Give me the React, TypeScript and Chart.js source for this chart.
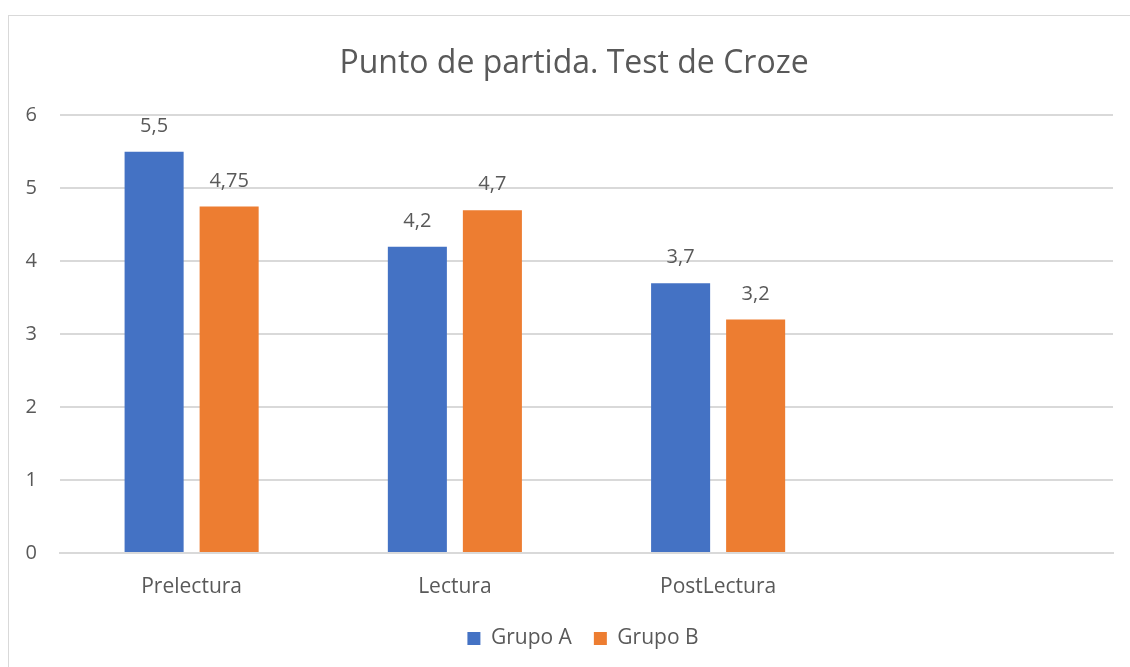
import React, { useEffect, useRef } from "react";
import { Chart, registerables } from "chart.js";

Chart.register(...registerables);

const categories = ["Prelectura", "Lectura", "PostLectura", ""];
const grupoA = [5.5, 4.2, 3.7, null];
const grupoB = [4.75, 4.7, 3.2, null];
const yTicks = [0, 1, 2, 3, 4, 5, 6];

const FONT = "'Open Sans', 'Liberation Sans', sans-serif";
const TEXT = "#595959";

const valueLabels = {
  id: "valueLabels",
  afterDatasetsDraw(chart: any) {
    const ctx = chart.ctx;
    ctx.save();
    ctx.font = `20px ${FONT}`;
    ctx.fillStyle = TEXT;
    ctx.textAlign = "center";
    ctx.textBaseline = "alphabetic";
    chart.data.datasets.forEach((ds: any, i: number) => {
      const meta = chart.getDatasetMeta(i);
      meta.data.forEach((bar: any, j: number) => {
        const v = ds.data[j];
        if (v === null || v === undefined) return;
        ctx.fillText(String(v).replace(".", ","), bar.x, bar.y - 20);
      });
    });
    ctx.restore();
  },
};

// fine placement of legend and title blocks (Excel-like offsets)
const blockPlacement = {
  id: "blockPlacement",
  beforeLayout(chart: any) {
    const lg = chart.legend;
    if (lg && !lg._patched) {
      const orig = lg.fit.bind(lg);
      lg.fit = function () {
        orig();
        this.height = 64;
      };
      lg._patched = true;
    }
  },
  afterLayout(chart: any) {
    const lg = chart.legend;
    if (lg) {
      lg.left += 22;
      lg.right += 22;
      lg.top += 3;
      lg.bottom += 3;
    }
    const tb = chart.titleBlock;
    if (tb) {
      tb.left += 13;
      tb.right += 13;
    }
  },
};

export default function App() {
  const ref = useRef<HTMLCanvasElement>(null);
  useEffect(() => {
    const chart = new Chart(ref.current as HTMLCanvasElement, {
      type: "bar",
      data: {
        labels: categories,
        datasets: [
          { label: "Grupo A", data: grupoA as any, backgroundColor: "#4472C4", categoryPercentage: 0.57, barPercentage: 0.787 },
          { label: "Grupo B", data: grupoB as any, backgroundColor: "#ED7D31", categoryPercentage: 0.57, barPercentage: 0.787 },
        ],
      },
      options: {
        animation: false,
        responsive: false,
        maintainAspectRatio: false,
        layout: { padding: { left: 0, right: 17, top: 0, bottom: 0 } },
        plugins: {
          title: {
            display: true,
            text: "Punto de partida. Test de Croze",
            color: TEXT,
            font: { family: FONT, size: 32, weight: "normal" as any, lineHeight: 1.2 },
            padding: { top: 29, bottom: 32 },
          },
          legend: {
            display: true,
            position: "bottom",
            labels: {
              color: TEXT,
              font: { family: FONT, size: 21 },
              boxWidth: 13,
              boxHeight: 13,
              padding: 22,
            },
          },
          tooltip: { enabled: false },
        },
        scales: {
          x: {
            afterFit(scale: any) {
              scale.height = 50;
            },
            grid: { display: false, drawTicks: false },
            border: { display: true, color: "#d9d9d9", width: 2 },
            ticks: { color: TEXT, font: { family: FONT, size: 21 }, padding: 21, maxRotation: 0 },
          },
          y: {
            min: 0,
            max: 6,
            afterFit(scale: any) {
              scale.width = 51;
            },
            afterBuildTicks(scale: any) {
              scale.ticks = yTicks.map((v) => ({ value: v }));
            },
            grid: { color: "#d9d9d9", lineWidth: 2, drawTicks: false },
            border: { display: false },
            ticks: { color: TEXT, font: { family: FONT, size: 20 }, padding: 23 },
          },
        },
      },
      plugins: [valueLabels, blockPlacement],
    });
    return () => chart.destroy();
  }, []);
  return (
    <div
      style={{
        position: "fixed",
        left: 8,
        top: 15,
        width: 1122,
        height: 652,
        borderLeft: "1px solid #d9d9d9",
        borderTop: "1px solid #d9d9d9",
        background: "#fff",
      }}
    >
      <canvas ref={ref} width={1121} height={651} style={{ display: "block" }} />
    </div>
  );
}
